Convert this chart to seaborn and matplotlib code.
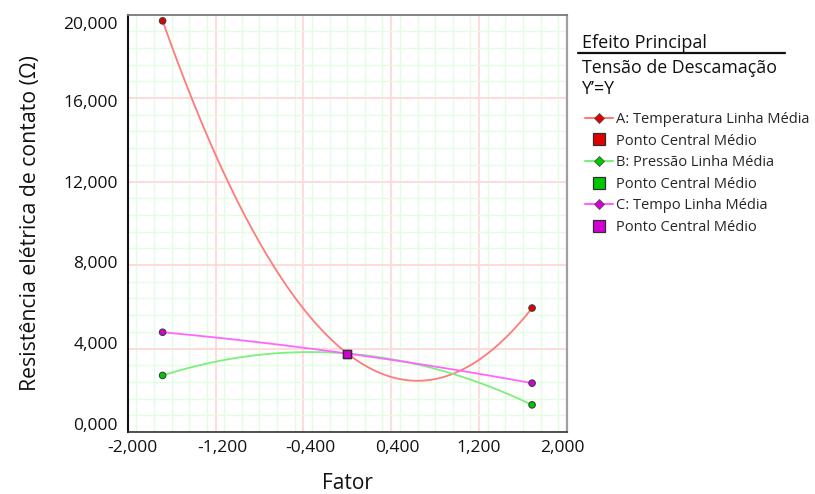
import numpy as np
import pandas as pd
import matplotlib
matplotlib.use("Agg")
import matplotlib.pyplot as plt
import matplotlib.transforms as mtransforms
from matplotlib.lines import Line2D
from matplotlib.ticker import MultipleLocator, FixedLocator, FuncFormatter
import seaborn as sns

# Coded factor levels (-alpha, centre, +alpha) and the mean response at each
factor_levels = [-1.682, 0.0, 1.682]
temperatura = [19.70, 3.76, 5.94]
pressao = [2.71, 3.76, 1.30]
tempo = [4.78, 3.76, 2.34]
ponto_central = 3.76

series_names = ["A: Temperatura", "B: Pressão", "C: Tempo"]
line_colors = ["#ff7a7a", "#7cf07c", "#ff66ff"]
point_colors = ["#e00000", "#00c800", "#d400d4"]

x_ticks = [-2.0, -1.2, -0.4, 0.4, 1.2, 2.0]
y_ticks = [0, 4, 8, 12, 16, 20]

# Label nudges in pixels (x: right, y: down) so the end labels stay inside the frame
x_label_shift = [5, 7, 7, 6.5, 0, -5]
y_label_shift = [-8.5, -6, -3, 0.5, 3, 8]

sns.set_theme(style="white")
plt.rcParams["font.family"] = ["Open Sans", "DejaVu Sans"]

W, H = 815, 494
fig = plt.figure(figsize=(W / 100, H / 100), dpi=100)
ax = fig.add_axes([127.7 / W, 1 - 432 / H, (567 - 127.7) / W, (432 - 14.6) / H])

# Quadratic main-effect curves through the three levels of each factor
grid_x = np.linspace(factor_levels[0], factor_levels[-1], 200)
frames, points = [], []
for name, vals in zip(series_names, [temperatura, pressao, tempo]):
    coef = np.polyfit(factor_levels, vals, 2)
    frames.append(pd.DataFrame({"Fator": grid_x, "y": np.polyval(coef, grid_x), "serie": name}))
    points.append(pd.DataFrame({"Fator": [factor_levels[0], factor_levels[-1]],
                                "y": [vals[0], vals[-1]], "serie": name}))
curves = pd.concat(frames, ignore_index=True)
ends = pd.concat(points, ignore_index=True)

sns.lineplot(data=curves, x="Fator", y="y", hue="serie", palette=line_colors,
             linewidth=1.3, legend=False, ax=ax, zorder=3)
sns.scatterplot(data=ends, x="Fator", y="y", hue="serie", palette=point_colors,
                s=22, edgecolor="#404040", linewidth=0.8, legend=False, ax=ax, zorder=4)
for c in point_colors:
    ax.scatter([factor_levels[1]], [ponto_central], marker="s", s=38, color=c,
               edgecolor="#303030", linewidth=0.9, zorder=5)

ax.set_xlim(-2.0, 2.0)
ax.set_ylim(0.0, 20.0)

# Grid: light red major lines, light green minor lines
ax.xaxis.set_major_locator(FixedLocator(x_ticks))
ax.xaxis.set_minor_locator(MultipleLocator(0.16))
ax.yaxis.set_major_locator(FixedLocator(y_ticks))
ax.yaxis.set_minor_locator(MultipleLocator(0.8))
ax.grid(which="minor", color="#e4fbe4", linewidth=1.0, zorder=0)
ax.grid(which="major", color="#ffd6d6", linewidth=1.2, zorder=1)
ax.set_axisbelow(True)

fmt = FuncFormatter(lambda v, p: f"{v:.3f}".replace(".", ","))
ax.xaxis.set_major_formatter(fmt)
ax.yaxis.set_major_formatter(fmt)
ax.tick_params(which="both", length=0, labelsize=12.5, colors="#111111")
ax.tick_params(axis="y", pad=7)
ax.tick_params(axis="x", pad=6)
for lab, dy in zip(ax.get_yticklabels(), y_label_shift):
    lab.set_transform(lab.get_transform() + mtransforms.ScaledTranslation(0, -dy / 100, fig.dpi_scale_trans))
for lab, dx in zip(ax.get_xticklabels(), x_label_shift):
    lab.set_transform(lab.get_transform() + mtransforms.ScaledTranslation(dx / 100, 0, fig.dpi_scale_trans))

ax.set_xlabel("Fator", fontsize=15, labelpad=12, color="#111111")
ax.set_ylabel("Resistência elétrica de contato (Ω)", fontsize=15.3, labelpad=16, color="#111111")

ax.spines["left"].set_color("#111111")
ax.spines["left"].set_linewidth(1.5)
ax.spines["bottom"].set_color("#333333")
ax.spines["bottom"].set_linewidth(1.2)
ax.spines["top"].set_color("#7a7a7a")
ax.spines["top"].set_linewidth(1.3)
ax.spines["right"].set_color("#a0a0a0")
ax.spines["right"].set_linewidth(1.6)

# Legend header
fig.text(582 / W, 1 - 43 / H, "Efeito Principal", fontsize=13, va="center", ha="left", color="#111111")
fig.add_artist(Line2D([578 / W, 785 / W], [1 - 53 / H, 1 - 53 / H], color="#111111", linewidth=1.6))
fig.text(582 / W, 1 - 68 / H, "Tensão de Descamação", fontsize=12.8, va="center", ha="left", color="#111111")
fig.text(582 / W, 1 - 89 / H, "Y’=Y", fontsize=12.8, va="center", ha="left", color="#111111")

handles, labels = [], []
for name, lc, pc in zip(series_names, line_colors, point_colors):
    handles.append(Line2D([0], [0], color=lc, linewidth=1.5, marker="D", markersize=5.5,
                          markerfacecolor=pc, markeredgecolor="#505050", markeredgewidth=0.6))
    labels.append(f"{name} Linha Média")
    handles.append(Line2D([0], [0], linestyle="none", marker="s", markersize=8,
                          markerfacecolor=pc, markeredgecolor="#303030", markeredgewidth=0.9))
    labels.append("Ponto Central Médio")
fig.legend(handles, labels, loc="upper left", bbox_to_anchor=(585 / W, 1 - 112 / H),
           frameon=False, fontsize=10.5, handlelength=1.9, handletextpad=0.25,
           labelspacing=0.45, borderpad=0, borderaxespad=0)

fig.savefig("out.png", dpi=100)
